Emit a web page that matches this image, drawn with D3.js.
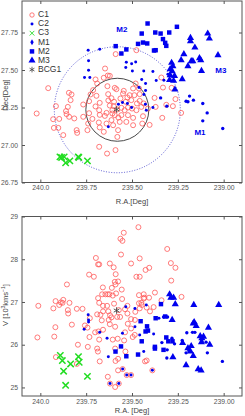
<!DOCTYPE html>
<html>
<head>
<script src="https://d3js.org/d3.v7.min.js"></script>
<style>
  body { margin: 0; background: #fff; }
  svg { font-family: "Liberation Sans", Arial, sans-serif; }
  .tick text { fill: #555; font-size: 6.8px; }
  .tick line, .frame { stroke: #555; }
</style>
</head>
<body>
<div id="chart"></div>
<script>
// ---- data: [R.A., Dec] for the sky map ----
var c1Sky = [[240.02,27.21],[239.957,27.379],[239.93,27.172],[239.926,27.114],[239.915,27.259],[239.902,27.114],[239.897,27.174],[239.875,27.066],
  [239.844,27.348],[239.83,27.337],[239.835,27.299],[239.85,27.254],[239.86,27.226],[239.857,27.206],[239.843,27.188],[239.815,27.177],[239.802,27.099],
  [239.799,27.081],[239.766,27.27],[239.743,27.099],[239.739,27.143],[239.734,27.212],[239.734,27.292],[239.726,27.337],[239.712,27.366],[239.69,27.41],
  [239.699,27.437],[239.694,27.328],[239.676,27.281],[239.679,27.232],[239.681,27.15],[239.676,27.117],[239.679,26.988],[239.654,27.448],[239.647,27.51],
  [239.634,27.392],[239.632,27.463],[239.63,27.339],[239.629,27.297],[239.639,27.214],[239.648,27.194],[239.639,27.143],[239.654,27.088],[239.636,26.943],
  [239.621,27.461],[239.612,27.312],[239.607,27.21],[239.612,27.166],[239.603,27.132],[239.594,27.381],[239.594,27.199],[239.59,26.966],[239.589,27.606],
  [239.585,27.372],[239.581,27.237],[239.58,27.054],[239.576,27.099],[239.574,27.183],[239.567,27.154],[239.563,27.31],[239.558,27.248],[239.549,27.343],
  [239.545,27.361],[239.534,27.288],[239.525,27.317],[239.522,27.25],[239.522,27.199],[239.513,27.332],[239.5,27.243],[239.494,27.377],[239.494,27.181],
  [239.494,27.132],[239.487,27.332],[239.48,27.41],[239.476,27.632],[239.473,27.277],[239.462,27.377],[239.458,27.339],[239.458,27.294],[239.449,27.254],
  [239.444,27.143],[239.44,27.192],[239.436,27.277],[239.413,27.243],[239.404,27.134],[239.377,27.314],[239.371,27.254],[239.34,27.45],[239.335,27.181],
  [239.331,27.383],[239.313,27.268],[239.284,27.381],[239.277,27.259],[239.263,27.306],[239.232,27.214],
  [239.6,27.259],[239.621,27.263],[239.607,27.232],[239.598,27.288],[239.54,27.232],[239.558,27.199],[239.504,27.299],[239.476,27.232],
  [239.531,27.154],[239.676,27.201],[239.699,27.257],[239.716,27.174],[239.766,27.188]];
var c2Sky = [[239.739,27.632],[239.737,27.561],[239.737,27.499],[239.676,27.639],[239.73,27.45],[239.759,27.45],[239.531,27.552],[239.534,27.517],
  [239.502,27.541],[239.48,27.554],[239.498,27.494],[239.436,27.494],[239.447,27.437],[239.386,27.49],[239.368,27.43],[239.426,27.41],[239.326,27.432],
  [239.304,27.472],[239.574,27.272],[239.552,27.283],[239.525,27.277],[239.502,27.25],[239.427,27.272],[239.422,27.232],[239.386,27.25],[239.629,27.121],
  [239.435,27.337],[239.462,27.383],[239.426,27.363]];
var c3Sky = [[239.893,26.921],[239.884,26.917],[239.87,26.921],[239.862,26.881],[239.839,26.894],[239.793,26.921],[239.79,26.917],[239.743,26.894]];
var m1Sky = [[239.186,27.326],[239.165,27.299],[239.195,27.288],[239.205,27.292],[239.114,27.277],[239.09,27.214],[239.114,27.161],[239.005,27.11],
  [239.344,27.314],[239.31,27.259]];
var m2Sky = [[239.415,27.81],[239.255,27.788],[239.447,27.743],[239.373,27.75],[239.344,27.743],[239.297,27.75],[239.331,27.706],[239.319,27.681],
  [239.313,27.661],[239.467,27.674],[239.44,27.683],[239.417,27.677],[239.371,27.632],[239.38,27.63],[239.589,27.659],[239.531,27.637],[239.558,27.61]];
var m3Sky = [[239.087,27.743],[239.078,27.71],[239.181,27.714],[239.181,27.692],[239.157,27.65],[239.217,27.606],[239.232,27.566],[239.177,27.559],
  [239.168,27.559],[239.132,27.579],[239.125,27.566],[239.284,27.548],[239.277,27.526],[239.292,27.506],[239.031,27.599],[239.195,27.526],[239.121,27.494],
  [239.281,27.492],[239.292,27.466],[239.268,27.461],[239.226,27.439],[239.295,27.434],[239.273,27.428],[239.266,27.37]];
var bcgSky = [[239.584,27.237]];

// ---- data: [R.A., V (10^3 km/s)] ----
var c1Vel = [[239.465,28.75],[239.545,28.62],[239.563,28.48],[239.552,28.43],[239.308,28.24],[239.56,28.11],[239.458,28.02],[239.697,28.03],
  [239.685,27.88],[239.679,27.88],[239.621,27.9],[239.505,27.9],[239.288,27.91],[239.6,27.81],[239.426,27.75],[239.406,27.8],[239.263,27.8],[239.734,27.64],
  [239.708,27.59],[239.589,27.65],[239.476,27.59],[239.458,27.59],[239.286,27.5],[239.855,27.41],[239.576,27.48],[239.61,27.33],[239.659,27.34],
  [239.663,27.18],[239.645,27.18],[239.632,27.18],[239.623,27.18],[239.605,27.15],[239.375,27.22],[239.23,27.12],[239.433,27.1],[239.407,27.1],
  [239.462,27.16],[239.449,26.98],[239.679,26.98],[239.685,27.09],[239.917,27.02],[239.879,26.98],[239.841,26.98],[239.897,26.93],[239.801,26.84],
  [239.658,26.91],[239.636,26.91],[239.598,26.96],[239.629,26.78],[239.658,26.78],[239.672,26.7],[239.62,26.69],[239.612,26.64],[239.572,26.81],
  [239.554,27.07],[239.538,26.83],[239.482,26.77],[239.462,26.97],[239.458,26.85],[239.402,26.78],[239.382,26.88],[239.339,27.04],[240.011,26.91],
  [239.929,26.85],[239.85,26.81],[239.848,26.73],[239.77,26.84],[239.73,26.62],[239.665,26.57],[239.627,26.58],[239.581,26.65],[239.565,26.65],
  [239.525,26.91],[239.525,26.73],[239.505,26.6],[239.484,26.58],[239.505,26.38],[239.523,26.49],[239.592,26.42],[239.621,26.48],[239.658,26.35],
  [239.683,26.31],[239.757,26.45],[239.743,26.4],[239.828,26.47],[239.918,26.41],[239.924,26.19],[240.016,26.17],[239.701,26.29],[239.732,26.18],
  [239.679,26.12],[239.605,26.12],[239.578,26.14],[239.538,26.29],[239.543,26.1],[239.496,26.18],[239.485,26.23],[239.741,25.95],[239.795,26.0],
  [239.69,25.91],[239.686,25.84],[239.676,25.61],[239.592,25.91],[239.576,25.67],[239.536,25.84],[239.429,25.61],[239.42,25.63],[239.59,25.62],
  [239.576,25.4],[239.529,25.29],[239.505,25.29],[239.632,25.25],[239.62,25.09],[239.572,25.09],[239.592,25.01],[239.801,25.55],[239.915,25.71],
  [239.389,25.4],[239.551,25.43],[239.875,27.05],[239.888,26.99],[239.69,26.71],[239.556,27.29],[239.587,27.2],[239.594,27.47],[239.59,27.41],
  [239.447,26.93],[239.436,27.18],[239.436,27.08],[239.42,26.87]];
var c2Vel = [[239.739,26.7],[239.737,26.58],[239.737,26.53],[239.761,26.36],[239.676,26.29],[239.636,26.15],[239.629,25.72],[239.534,26.89],
  [239.484,26.85],[239.422,26.93],[239.458,26.23],[239.484,26.42],[239.436,25.84],[239.382,26.25],[239.353,26.62],[239.552,26.27],
  [239.62,25.09],[239.572,25.09],[239.529,25.29],[239.505,25.29],[239.389,25.4],[239.551,25.43]];
var c3Vel = [[239.891,25.75],[239.88,25.63],[239.835,25.55],[239.792,25.72],[239.788,25.59],[239.873,25.38],[239.862,25.05],[239.743,25.26]];
var m1Vel = [[239.328,26.65],[239.306,26.65],[239.308,25.88],[239.31,25.69],[239.282,26.15],[239.268,26.02],[239.226,26.1],[239.201,26.28],
  [239.17,26.29],[239.205,25.81],[239.19,25.86],[239.157,26.29],[239.119,26.08],[239.096,26.06],[239.089,25.81],[239.007,25.61],[239.337,26.05]];
var m2Vel = [[239.453,26.55],[239.418,26.43],[239.413,26.33],[239.371,26.62],[239.342,26.95],[239.319,26.66],[239.313,26.17],[239.302,26.08],
  [239.375,25.91],[239.375,25.95],[239.328,25.88],[239.279,26.08],[239.56,25.96],[239.59,25.84],[239.531,25.73],[239.467,25.77],[239.447,26.08],
  [239.426,26.31]];
var m3Vel = [[239.295,27.18],[239.288,27.1],[239.273,27.1],[239.264,26.95],[239.281,26.58],[239.163,26.93],[239.166,26.5],[239.161,26.53],
  [239.15,26.44],[239.083,26.4],[239.027,26.93],[239.128,26.2],[239.224,26.04],[239.195,25.92],[239.177,25.97],[239.166,25.74],[239.277,25.71],
  [239.181,25.84],[239.119,26.15],[239.11,26.19],[239.121,26.06],[239.076,26.0],[239.205,25.52],[239.139,25.43],[239.123,25.4]];
var bcgVel = [[239.584,26.8]];

var raTicks = [240.0, 239.75, 239.5, 239.25, 239.0];
var decTicks = [26.75, 27.0, 27.25, 27.5, 27.75];
var velTicks = [25, 26, 27, 28, 29];
var legendNames = ["C1", "C2", "C3", "M1", "M2", "M3", "BCG1"];
var groupLabels = [["M2", 239.555, 27.77], ["M3", 239.015, 27.495], ["M1", 239.129, 27.08]];
var clusterCentre = [239.58, 27.235];
var circleRadii = [0.21, 0.42];

var width = 245, height = 416;
var red = "#ff5a5a", blue = "#0000ee", green = "#22dd22";

var svg = d3.select("#chart").append("svg")
  .attr("width", width).attr("height", height);

var x = d3.scaleLinear().domain([240.1, 238.9]).range([22, 242]);
var yTop = d3.scaleLinear().domain([26.75, 27.96]).range([182.5, 1]);
var yBot = d3.scaleLinear().domain([24.8, 29]).range([396, 216.5]);

var sym = {
  c2: d3.symbol().type(d3.symbolCircle).size(7),
  m1: d3.symbol().type(d3.symbolCircle).size(9),
  m2: d3.symbol().type(d3.symbolSquare).size(20),
  m3: d3.symbol().type(d3.symbolTriangle).size(22),
  c3: d3.symbol().type(d3.symbolTimes).size(28),
  bcg: d3.symbol().type(d3.symbolAsterisk).size(30)
};

function drawAxes(y, yt, fmtY) {
  var g = svg.append("g");
  var y0 = y.range()[0], y1 = y.range()[1];
  g.append("g").attr("transform", "translate(0," + y0 + ")")
    .call(d3.axisBottom(x).tickValues(raTicks).tickSizeInner(-3).tickSizeOuter(0)
      .tickPadding(3).tickFormat(function(d) { return d === 240 ? "240.0" : d3.format(".2f")(d); }));
  g.append("g").attr("transform", "translate(0," + y1 + ")")
    .call(d3.axisTop(x).tickValues(raTicks).tickSizeInner(-3).tickSizeOuter(0).tickFormat(""));
  g.append("g").attr("transform", "translate(" + x.range()[0] + ",0)")
    .call(d3.axisLeft(y).tickValues(yt).tickSizeInner(-3).tickSizeOuter(0).tickPadding(4).tickFormat(fmtY));
  g.append("g").attr("transform", "translate(" + x.range()[1] + ",0)")
    .call(d3.axisRight(y).tickValues(yt).tickSizeInner(-3).tickSizeOuter(0).tickFormat(""));
  g.selectAll(".domain").remove();
  g.append("rect").attr("class", "frame")
    .attr("x", x.range()[0]).attr("y", y1)
    .attr("width", x.range()[1] - x.range()[0]).attr("height", y0 - y1)
    .attr("fill", "none").attr("stroke-width", 1);
}

function drawMarks(y, sets) {
  svg.append("g").selectAll("circle").data(sets.c1).enter().append("circle")
    .attr("cx", function(d) { return x(d[0]); })
    .attr("cy", function(d) { return y(d[1]); })
    .attr("r", 2.5).attr("fill", "none").attr("stroke", red).attr("stroke-width", 0.8);
  ["c2", "m1", "m2", "m3"].forEach(function(k) {
    svg.append("g").selectAll("path").data(sets[k]).enter().append("path")
      .attr("d", sym[k])
      .attr("transform", function(d) { return "translate(" + x(d[0]) + "," + y(d[1]) + ")"; })
      .attr("fill", blue);
  });
  svg.append("g").selectAll("path").data(sets.c3).enter().append("path")
    .attr("d", sym.c3)
    .attr("transform", function(d) { return "translate(" + x(d[0]) + "," + y(d[1]) + ")"; })
    .attr("fill", "none").attr("stroke", green).attr("stroke-width", 1.5);
  svg.append("g").selectAll("path").data(sets.bcg).enter().append("path")
    .attr("d", sym.bcg)
    .attr("transform", function(d) { return "translate(" + x(d[0]) + "," + y(d[1]) + ")"; })
    .attr("fill", "none").attr("stroke", "#444").attr("stroke-width", 0.9);
}

// top panel
drawAxes(yTop, decTicks, function(d) { return d3.format(".2f")(d); });

var rPix = function(r) { return yTop(clusterCentre[1] - r) - yTop(clusterCentre[1]); };
svg.append("circle").attr("cx", x(clusterCentre[0])).attr("cy", yTop(clusterCentre[1]))
  .attr("r", rPix(circleRadii[1])).attr("fill", "none").attr("stroke", "#4444cc")
  .attr("stroke-width", 0.9).attr("stroke-dasharray", "1,1.6");
svg.append("circle").attr("cx", x(clusterCentre[0])).attr("cy", yTop(clusterCentre[1]))
  .attr("r", rPix(circleRadii[0])).attr("fill", "none").attr("stroke", "#333").attr("stroke-width", 0.9);

drawMarks(yTop, { c1: c1Sky, c2: c2Sky, c3: c3Sky, m1: m1Sky, m2: m2Sky, m3: m3Sky, bcg: bcgSky });

svg.append("g").selectAll("text").data(groupLabels).enter().append("text")
  .attr("x", function(d) { return x(d[1]); })
  .attr("y", function(d) { return yTop(d[2]); })
  .attr("text-anchor", "middle").attr("dominant-baseline", "middle")
  .attr("fill", blue).attr("font-weight", "bold").attr("font-size", 8)
  .text(function(d) { return d[0]; });

// legend
var legend = svg.append("g");
var legKeys = ["c1", "c2", "c3", "m1", "m2", "m3", "bcg"];
legendNames.forEach(function(name, i) {
  var ly = 15 + i * 9.1, k = legKeys[i];
  if (k === "c1") {
    legend.append("circle").attr("cx", 32).attr("cy", ly).attr("r", 2.2)
      .attr("fill", "none").attr("stroke", red).attr("stroke-width", 0.8);
  } else {
    var p = legend.append("path").attr("d", sym[k]).attr("transform", "translate(32," + ly + ")");
    if (k === "c3") p.attr("d", d3.symbol().type(d3.symbolTimes).size(16)).attr("fill", "none").attr("stroke", green).attr("stroke-width", 0.9);
    else if (k === "bcg") p.attr("d", d3.symbol().type(d3.symbolAsterisk).size(22)).attr("fill", "none").attr("stroke", "#444").attr("stroke-width", 0.8);
    else if (k === "m1") p.attr("d", d3.symbol().type(d3.symbolDiamond).size(10)).attr("fill", blue);
    else p.attr("fill", blue);
  }
  legend.append("text").attr("x", 38).attr("y", ly).attr("dominant-baseline", "middle")
    .attr("font-size", 8.5).attr("fill", "#333").text(name);
});

svg.append("text").attr("x", 132).attr("y", 203.5).attr("text-anchor", "middle")
  .attr("font-size", 7.5).attr("fill", "#444").text("R.A.[Deg]");
svg.append("text").attr("transform", "translate(8,95) rotate(-90)").attr("text-anchor", "middle")
  .attr("font-size", 7.5).attr("fill", "#444").text("Dec[Deg]");

// bottom panel
drawAxes(yBot, velTicks, d3.format("d"));
drawMarks(yBot, { c1: c1Vel, c2: c2Vel, c3: c3Vel, m1: m1Vel, m2: m2Vel, m3: m3Vel, bcg: bcgVel });

svg.append("text").attr("x", 132).attr("y", 413).attr("text-anchor", "middle")
  .attr("font-size", 7.5).attr("fill", "#444").text("R.A. [Deg]");
var vl = svg.append("text").attr("transform", "translate(8,305) rotate(-90)").attr("text-anchor", "middle")
  .attr("font-size", 7.5).attr("fill", "#444");
vl.append("tspan").text("V [10");
vl.append("tspan").attr("font-size", 5).attr("dy", -3).text("3");
vl.append("tspan").attr("dy", 3).text("kms");
vl.append("tspan").attr("font-size", 5).attr("dy", -3).text("\u22121");
vl.append("tspan").attr("dy", 3).text("]");
</script>
</body>
</html>
